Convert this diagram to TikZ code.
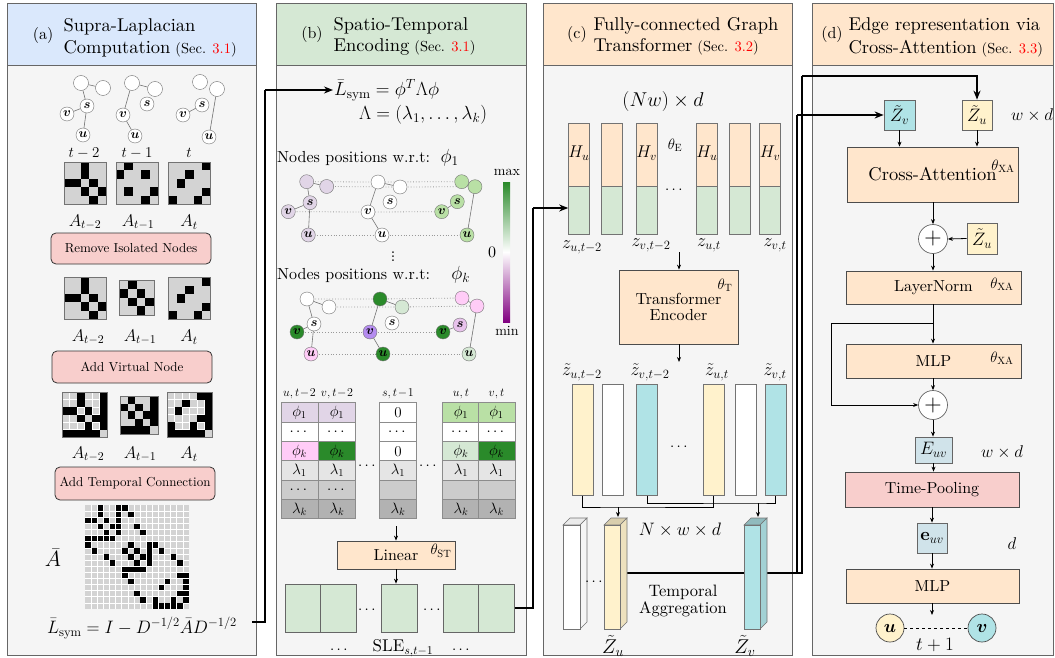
\RequirePackage{fix-cm}
\documentclass[tikz,border=0pt]{standalone}
\usepackage{amsmath,bm}
\usepackage{fontspec}
\setmainfont{lmroman10-regular.otf}[BoldFont=lmroman10-bold.otf,ItalicFont=lmroman10-italic.otf]
\usetikzlibrary{arrows.meta,calc}
\definecolor{hblue}{HTML}{DAE8FC}
\definecolor{hgreen}{HTML}{D5E8D4}
\definecolor{peach}{HTML}{FFE6CC}
\definecolor{pinkb}{HTML}{F8CECC}
\definecolor{bodyc}{HTML}{F5F5F5}
\definecolor{yel}{HTML}{FFF2CC}
\definecolor{cyn}{HTML}{B0E3E6}
\definecolor{lpur}{HTML}{E1D5E7}
\definecolor{lgrn}{HTML}{B9E0A5}
\definecolor{dgrn}{HTML}{2A8A2A}
\definecolor{pnk}{HTML}{FFCCF7}
\definecolor{vio}{HTML}{B58CF0}
\definecolor{lav}{HTML}{E8C2EC}
\definecolor{matg}{HTML}{D3D3D3}
\definecolor{ebox}{HTML}{D0E3EA}
\definecolor{mpur}{HTML}{800080}
\newcommand\fz[1]{\fontsize{#1}{\fpeval{1.18*#1}}\selectfont}
\newcommand\mymat[5]{%
  \fill[matg] (#1,#2) rectangle ++({#3*#4},{#3*#4});
  \foreach \r/\c in {#5} \fill[black] ({#1+\c*#4},{#2+\r*#4}) rectangle ++(#4,#4);
  \draw[black!55,line width=0.7] (#1,#2) rectangle ++({#3*#4},{#3*#4});}
\newcommand\mygrid[4]{% x y n cell
  \pgfmathtruncatemacro\nm{#3-1}
  \foreach \k in {1,...,\nm} {
    \draw[white,line width=0.6] ({#1+\k*#4},#2) -- ++(0,{#3*#4});
    \draw[white,line width=0.6] (#1,{#2+\k*#4}) -- ++({#3*#4},0);}}
\newcommand\cuboid[7]{% x ytop ybot w front top side
  \filldraw[fill=#6,draw=black!55,line width=0.6] (#1,#2) -- ++(7,-7) -- ++(#4,0) -- ++(-7,7) -- cycle;
  \filldraw[fill=#7,draw=black!55,line width=0.6] ({#1+#4},#2) -- ++(7,-7) -- ({#1+#4+7},{#3-7}) -- ({#1+#4},#3) -- cycle;
  \filldraw[fill=#5,draw=black!55,line width=0.6] (#1,#2) rectangle ({#1+#4},#3);}
\tikzset{
  panel/.style={draw=black!60,fill=bodyc,line width=0.9},
  hdrs/.style={draw=black!60,line width=0.9},
  gn/.style={circle,draw=black!55,fill=white,inner sep=0pt,minimum size=14pt,font=\fz{13}},
  ge/.style={draw=black!55,line width=0.6},
  gd/.style={draw=black!40,dotted,line width=0.8},
  btn/.style={draw=black!80,rounded corners=5pt,fill=pinkb,line width=0.8,font=\fz{13},inner sep=0pt},
  box/.style={draw=black!70,fill=peach,line width=0.8,inner sep=0pt},
  cell/.style={draw=black!45,line width=0.6,inner sep=0pt,minimum width=37,minimum height=19.5,font=\fz{15}},
  col/.style={draw=black!55,line width=0.6,inner sep=0pt,minimum width=21},
  arr/.style={-{Stealth[length=5pt,width=4pt]},line width=0.8},
  bigl/.style={line width=1.8},
  biga/.style={line width=1.8,-{Stealth[length=9pt,width=7pt]}},
}
\begin{document}
\begin{tikzpicture}[x=1pt,y=-1pt]
\fill[white] (0,0) rectangle (1055,658);
\useasboundingbox (0,0) rectangle (1055,658);

% ---------- panels ----------
\draw[panel] (7,65) rectangle (256,655);
\draw[hdrs,fill=hblue] (7,3) rectangle (256,65);
\draw[panel] (276,65) rectangle (526,655);
\draw[hdrs,fill=hgreen] (276,3) rectangle (526,65);
\draw[panel] (543,65) rectangle (792,655);
\draw[hdrs,fill=peach] (543,3) rectangle (792,65);
\draw[panel] (812,65) rectangle (1053.5,655);
\draw[hdrs,fill=peach] (812,3) rectangle (1053.5,65);

% headers
\node[font=\fz{16}] (ha) at (43,36) {(a)};
\node[anchor=west,font=\fz{18.5}] (ha1) at (60,27) {Supra-Laplacian};
\node[anchor=west,font=\fz{18.5}] (ha2) at (60,49) {Computation\hspace{5pt}{\fz{14.5}(Sec. \textcolor{red}{3.1})}};
\node[font=\fz{16}] (hb) at (312,35) {(b)};
\node[anchor=west,font=\fz{18.5}] (hb1) at (330,26) {Spatio-Temporal};
\node[anchor=west,font=\fz{18.5}] (hb2) at (330,47) {Encoding\hspace{5pt}{\fz{14.5}(Sec. \textcolor{red}{3.1})}};
\node[font=\fz{16}] (hc) at (577,35) {(c)};
\node[anchor=west,font=\fz{18.5}] (hc1) at (590,26) {Fully-connected Graph};
\node[anchor=west,font=\fz{18.5}] (hc2) at (590,47) {Transformer\hspace{5pt}{\fz{14.5}(Sec. \textcolor{red}{3.2})}};
\node[font=\fz{16}] (hd) at (832,35) {(d)};
\node[anchor=west,font=\fz{18.5}] (hd1) at (845,26) {Edge representation via};
\node[anchor=west,font=\fz{18.5}] (hd2) at (845,49) {Cross-Attention\hspace{5pt}{\fz{14.5}(Sec. \textcolor{red}{3.3})}};

% ---------- panel (a) ----------
\node[gn,minimum size=15pt] (a1c1) at (81,83) {};
\node[gn,minimum size=15pt] (a1c2) at (103,88) {};
\node[gn] (a1s) at (87,106) {$\bm{s}$};
\node[gn] (a1v) at (67,114) {$\bm{v}$};
\node[gn] (a1u) at (83,135) {$\bm{u}$};
\draw[ge] (a1c1)--(a1c2) (a1c1)--(a1s) (a1v)--(a1s) (a1s)--(a1u);
\node[gn,minimum size=15pt] (a2c1) at (132,83) {};
\node[gn,minimum size=15pt] (a2c2) at (155,89) {};
\node[gn] (a2s) at (147,104) {$\bm{s}$};
\node[gn] (a2v) at (123,115) {$\bm{v}$};
\node[gn] (a2u) at (135,136) {$\bm{u}$};
\draw[ge] (a2c1)--(a2c2) (a2c1)--(a2v) (a2v)--(a2u);
\node[gn,minimum size=15pt] (a3c1) at (200,82) {};
\node[gn,minimum size=15pt] (a3c2) at (217,89) {};
\node[gn] (a3s) at (202,105) {$\bm{s}$};
\node[gn] (a3v) at (183,115) {$\bm{v}$};
\node[gn] (a3u) at (209,137) {$\bm{u}$};
\draw[ge] (a3v)--(a3s) (a3c2)--(a3u);
\node[font=\fz{15}] (t2) at (84,153) {$t-2$};
\node[font=\fz{15}] (t1) at (137,153) {$t-1$};
\node[font=\fz{15}] (t0) at (189,153) {$t$};

% row 1 matrices
\mymat{64}{162}{5}{8.4}{0/2,1/2,2/0,2/1,2/3,3/2,3/4,4/3}
\mymat{116}{162}{5}{8.4}{0/1,1/0,1/3,3/1,3/4,4/3}
\mymat{168}{162}{5}{8.5}{0/4,4/0,1/2,2/1,3/4,4/3}
\node[font=\fz{17}] (la1) at (85,222) {$A_{t-2}$};
\node[font=\fz{17}] (la2) at (138,222) {$A_{t-1}$};
\node[font=\fz{17}] (la3) at (189,222) {$A_{t}$};
\node[btn,minimum width=160,minimum height=31] (rem) at (131,248.5) {Remove Isolated Nodes};

% row 2 matrices
\mymat{64}{277}{5}{8.4}{0/2,1/2,2/0,2/1,2/3,3/2,3/4,4/3}
\mymat{119}{280}{4}{8.75}{0/1,1/0,1/2,2/1,2/3,3/2}
\mymat{168}{277}{5}{8.5}{0/4,4/0,1/2,2/1,3/4,4/3}
\node[font=\fz{17}] (lb1) at (88,337) {$A_{t-2}$};
\node[font=\fz{17}] (lb2) at (140,337) {$A_{t-1}$};
\node[font=\fz{17}] (lb3) at (189,337) {$A_{t}$};
\node[btn,minimum width=160,minimum height=32] (virt) at (132,367) {Add Virtual Node};

% row 3 matrices (with virtual node)
\fill[matg] (62,392) rectangle ++(45,45); \mygrid{62}{392}{6}{7.5}
\foreach \r/\c in {0/2,1/2,2/0,2/1,2/3,3/2,3/4,4/3,0/5,1/5,2/5,3/5,4/5,5/0,5/1,5/2,5/3,5/4}
  \fill[black] ({62+\c*7.5},{392+\r*7.5}) rectangle ++(7.5,7.5);
\draw[black!55,line width=0.7] (62,392) rectangle ++(45,45);
\mymat{120}{396}{5}{7.6}{0/1,1/0,1/2,2/1,2/3,3/2,0/4,1/4,2/4,3/4,4/0,4/1,4/2,4/3}
\fill[matg] (167,392) rectangle ++(45,45); \mygrid{167}{392}{6}{7.5}
\foreach \r/\c in {0/4,4/0,1/2,2/1,3/4,4/3,0/5,1/5,2/5,3/5,4/5,5/0,5/1,5/2,5/3,5/4}
  \fill[black] ({167+\c*7.5},{392+\r*7.5}) rectangle ++(7.5,7.5);
\draw[black!55,line width=0.7] (167,392) rectangle ++(45,45);
\node[font=\fz{17}] (lc1) at (88,454) {$A_{t-2}$};
\node[font=\fz{17}] (lc2) at (140,454) {$A_{t-1}$};
\node[font=\fz{17}] (lc3) at (189,454) {$A_{t}$};
\node[btn,minimum width=160,minimum height=33] (temp) at (135,483.5) {Add Temporal Connection};

% big supra adjacency
\fill[matg] (85,505) rectangle ++(104,104);
\mygrid{85}{505}{17}{6.118}
\foreach \a/\b in {0/2,1/2,2/3,3/4,0/5,1/5,2/5,3/5,4/5,6/7,7/8,8/9,6/10,7/10,8/10,9/10,11/15,12/13,14/15,11/16,12/16,13/16,14/16,15/16,0/6,1/7,3/8,4/9,6/11,7/12,8/14,9/15} {
  \fill[black] ({85+\b*6.118+0.4},{505+\a*6.118+0.4}) rectangle ++(5.4,5.4);
  \fill[black] ({85+\a*6.118+0.4},{505+\b*6.118+0.4}) rectangle ++(5.4,5.4);}
\node[font=\fz{22}] (Abar) at (53,558) {$\bar A$};
\node[font=\fz{18},inner sep=0pt] (lform) at (142,628) {$\bar L_{\mathrm{sym}} = I - D^{-1/2}\bar A D^{-1/2}$};

% ---------- panel (b) ----------
\node[anchor=west,font=\fz{19},inner sep=1pt] (Lsym) at (333,90) {$\bar L_{\mathrm{sym}} = \phi^T\Lambda\phi$};
\node[font=\fz{19}] (Lam) at (423,115) {$\Lambda = (\lambda_1,\ldots,\lambda_k)$};
\node[anchor=west,font=\fz{16},inner sep=0pt] (np1) at (277,158) {Nodes positions w.r.t:\ \ {\fz{19}$\phi_1$}};

% graphs phi_1
\draw[gd] (306.7,181.7) -- (378,182) -- (461.7,181.7);
\draw[gd] (326.7,186.5) -- (400,187) -- (475,186.7);
\draw[gd] (288.3,211.7) -- (368,212) -- (441.7,211.7);
\draw[gd] (308.3,235) -- (382,235) -- (467,235);
\node[gn,fill=lpur] (b1c1) at (306.7,181.7) {};
\node[gn,fill=lpur] (b1c2) at (326.7,186.5) {};
\node[gn,fill=lpur] (b1s) at (310,202.7) {$\bm{s}$};
\node[gn,fill=lpur] (b1v) at (288.3,211.7) {$\bm{v}$};
\node[gn,fill=lpur] (b1u) at (308.3,235) {$\bm{u}$};
\draw[ge] (b1c1)--(b1c2) (b1c1)--(b1s) (b1v)--(b1s) (b1s)--(b1u);
\node[gn] (b2c1) at (378,182) {};
\node[gn] (b2c2) at (400,187) {};
\node[gn] (b2s) at (390,202) {$\bm{s}$};
\node[gn] (b2v) at (368,212) {$\bm{v}$};
\node[gn] (b2u) at (382,235) {$\bm{u}$};
\draw[ge] (b2c1)--(b2c2) (b2c1)--(b2v) (b2v)--(b2u);
\node[gn,fill=lgrn] (b3c1) at (461.7,181.7) {};
\node[gn,fill=lgrn] (b3c2) at (475,186.7) {};
\node[gn,fill=lgrn] (b3s) at (457.3,201.7) {$\bm{s}$};
\node[gn,fill=lgrn] (b3v) at (441.7,211.7) {$\bm{v}$};
\node[gn,fill=lgrn] (b3u) at (467,235) {$\bm{u}$};
\draw[ge] (b3c1)--(b3c2) (b3v)--(b3s) (b3c2)--(b3u);

\node[font=\fz{16},inner sep=0pt] (vd) at (393,254) {$\vdots$};
\node[anchor=west,font=\fz{16},inner sep=0pt] (npk) at (277,275) {Nodes positions w.r.t:\ \ \ \ {\fz{19}$\phi_k$}};

% graphs phi_k
\draw[gd] (307,299) -- (380,299) -- (462,298);
\draw[gd] (329,307) -- (402,307) -- (477,306);
\draw[gd] (297,332) -- (370,332) -- (443,332);
\draw[gd] (311,354) -- (383,354) -- (469,354);
\node[gn] (k1c1) at (307,299) {};
\node[gn] (k1c2) at (329,307) {};
\node[gn] (k1s) at (314,324) {$\bm{s}$};
\node[gn,fill=dgrn] (k1v) at (297,332) {$\bm{v}$};
\node[gn,fill=pnk] (k1u) at (311,354) {$\bm{u}$};
\draw[ge] (k1c1)--(k1c2) (k1c1)--(k1s) (k1v)--(k1s) (k1s)--(k1u);
\node[gn,fill=dgrn] (k2c1) at (380,299) {};
\node[gn,fill=hgreen] (k2c2) at (402,307) {};
\node[gn] (k2s) at (392,323) {$\bm{s}$};
\node[gn,fill=vio] (k2v) at (370,332) {$\bm{v}$};
\node[gn,fill=dgrn] (k2u) at (383,354) {$\bm{u}$};
\draw[ge] (k2c1)--(k2c2) (k2c1)--(k2v) (k2v)--(k2u);
\node[gn,fill=pnk] (k3c1) at (462,298) {};
\node[gn,fill=pnk] (k3c2) at (477,306) {};
\node[gn,fill=lav] (k3s) at (460,325) {$\bm{s}$};
\node[gn,fill=dgrn] (k3v) at (443,332) {$\bm{v}$};
\node[gn,fill=hgreen] (k3u) at (469,354) {$\bm{u}$};
\draw[ge] (k3c1)--(k3c2) (k3v)--(k3s) (k3c2)--(k3u);

% colour bar
\shade[top color=dgrn,bottom color=mpur,middle color=white] (503,182) rectangle (510,322);
\node[font=\fz{14}] (cmax) at (507,172) {max};
\node[font=\fz{16}] (czero) at (492,252) {0};
\node[font=\fz{14}] (cmin) at (507,331) {min};

% table
\foreach \x/\l in {299.5/{u,t\!-\!2},337/{v,t\!-\!2},398/{s,t\!-\!1},461/{u,t},496.5/{v,t}}
  \node[font=\fz{12}] at (\x,394) {$\l$};
\foreach \x/\ca/\cb in {299.5/lpur/pnk,337/lpur/dgrn,461/lgrn/hgreen,496.5/lgrn/dgrn} {
  \node[cell,fill=\ca] at (\x,412.5) {$\phi_1$};
  \node[cell,fill=white] at (\x,432) {$\cdots$};
  \node[cell,fill=\cb] at (\x,451.5) {$\phi_k$};
  \node[cell,fill=black!10] at (\x,470.5) {$\lambda_1$};
  \node[cell,fill=black!20] at (\x,490) {};
  \node[cell,fill=black!30] at (\x,509) {$\lambda_k$};}
\node[cell,fill=black!20] at (299.5,490) {$\cdots$};
\node[cell,fill=black!20] at (337,490) {$\cdots$};
\node[cell,fill=white] at (398,412.5) {$0$};
\node[cell,fill=white] at (398,432) {$\cdots$};
\node[cell,fill=white] at (398,451.5) {$0$};
\node[cell,fill=black!10] at (398,470.5) {$\lambda_1$};
\node[cell,fill=black!20] at (398,490) {};
\node[cell,fill=black!30] at (398,509) {$\lambda_k$};
\node[font=\fz{15}] at (368,466) {$\cdots$};
\node[font=\fz{15}] at (429,466) {$\cdots$};

\coordinate (tabb) at (396,526);
\node[box,minimum width=118,minimum height=28,font=\fz{16}] (lin) at (396,555) {Linear};
\node[font=\fz{15}] (thst) at (441,551) {$\theta_{\mathrm{ST}}$};
\draw[arr] (tabb) -- (lin.north);
\foreach \n/\x in {g1a/303,g1b/338.5,g2/399.5,g3a/461.5,g3b/496.5}
  \node[draw=black!60,fill=hgreen,line width=0.7,minimum width=35.5,minimum height=48,inner sep=0pt] (\n) at (\x,608) {};
\draw[arr] (lin.south) -- (lin.south |- g2.north);
\node[font=\fz{15}] at (368,610) {$\cdots$};
\node[font=\fz{15}] at (433,610) {$\cdots$};
\node[font=\fz{15}] at (340,650) {$\cdots$};
\node[font=\fz{17}] (sle) at (403,648) {SLE$_{s,t-1}$};
\node[font=\fz{15}] at (462,650) {$\cdots$};

% ---------- panel (c) ----------
\node[font=\fz{20}] (nwd) at (663,102) {$(Nw)\times d$};
\foreach \n/\x/\lab in {z1/579/{H_u},z2/612/{},z3/646.5/{H_v},z4/707/{H_u},z5/739.5/{},z6/770/{H_v}} {
  \node[col,fill=peach,minimum height=63,anchor=north] (\n t) at (\x,123) {};
  \node[col,fill=hgreen,minimum height=48,anchor=north] (\n) at (\x,186) {};
  \node[font=\fz{17},inner sep=0pt] at (\x,153) {$\lab$};}
\node[font=\fz{15}] (the) at (675,145) {$\theta_{\mathrm{E}}$};
\node[font=\fz{15}] at (675,190) {$\cdots$};
\node[font=\fz{18}] at (582,247) {$z_{u,t-2}$};
\node[font=\fz{18}] at (651,245) {$z_{v,t-2}$};
\node[font=\fz{18}] at (709,245) {$z_{u,t}$};
\node[font=\fz{18}] at (775,245) {$z_{v,t}$};
\coordinate (zs) at (679,252);
\node[box,minimum width=119,minimum height=74,font=\fz{16},align=center] (te) at (678.5,307) {Transformer\\[-3pt]Encoder};
\node[font=\fz{15}] (tht) at (725,285) {$\theta_{\mathrm{T}}$};
\draw[arr] (zs) -- (zs |- te.north);
\coordinate (tes) at (679,362);
\draw[arr] (tes |- te.south) -- (tes);
\node[font=\fz{18}] at (582,372) {$\tilde z_{u,t-2}$};
\node[font=\fz{18}] at (650,372) {$\tilde z_{v,t-2}$};
\node[font=\fz{18}] at (717,372) {$\tilde z_{u,t}$};
\node[font=\fz{18}] at (775,372) {$\tilde z_{v,t}$};
\foreach \n/\x/\c in {y1/582.5/yel,y2/612.5/white,y3/647/cyn,y4/713.5/yel,y5/745.5/white,y6/775.5/cyn}
  \node[col,fill=\c,minimum height=111,anchor=north] (\n) at (\x,384) {};
\node[font=\fz{15}] at (680,447) {$\cdots$};
\coordinate (zuin) at (618,507);
\coordinate (zvin) at (758,503);
\coordinate (zutop) at (618,517);
\coordinate (zvtop) at (758,517);
\draw[line width=0.8] (y1.south) |- (zuin) -| (y4.south);
\draw[line width=0.8] (y3.south) |- (zvin) -| (y6.south);
\draw[arr] (zuin) -- (zutop);
\draw[arr] (zvin) -- (zvtop);

% thick connectors (drawn before cuboids)
\coordinate (zuout) at (627,573);
\coordinate (zvout) at (767,573);
\node[draw=black!60,fill=cyn,line width=0.7,minimum width=31,minimum height=30,inner sep=0pt,font=\fz{18}] (dZv) at (899.5,115) {$\tilde Z_v$};
\node[draw=black!60,fill=yel,line width=0.7,minimum width=30,minimum height=30,inner sep=0pt,font=\fz{18}] (dZu) at (977,115) {$\tilde Z_u$};
\coordinate (cu) at (802,76);
\coordinate (cv) at (797,115);
\draw[bigl] (zuout) -- (cu |- zuout) -- (cu);
\draw[biga] (cu) -| (dZu.north);
\draw[bigl] (zvout) -- (cv |- zvout) -- (cv);
\draw[biga] (cv) -- (dZv.west);

\cuboid{563}{525}{629}{17}{white}{black!8}{black!4}
\cuboid{604}{525}{629}{16}{yel}{yel!85!black}{yel!93!black}
\cuboid{744}{525}{629}{16}{cyn}{cyn!82!black}{cyn!92!black}
\node[font=\fz{15}] at (595,582) {$\cdots$};
\node[font=\fz{18}] (nwd2) at (680,530) {$N\times w\times d$};
\node[font=\fz{16.5},align=center] (tagg) at (683,601) {Temporal\\[-3pt]Aggregation};
\node[font=\fz{20}] (lZu) at (613,646) {$\tilde Z_u$};
\node[font=\fz{20}] (lZv) at (745,646) {$\tilde Z_v$};

% thick connector (b)->(c)
\coordinate (gout) at (533,608);
\coordinate (cin) at (533,208);
\draw[bigl] (g3b.east) -- (gout) -- (cin);
\draw[biga] (cin) -- (cin -| z1.west);
% thick connector (a)->(b)
\coordinate (aout) at (252,622);
\coordinate (aup) at (265,622);
\draw[bigl] (aout) -- (aup) -- (aup |- Lsym.west);
\draw[biga] (aup |- Lsym.west) -- (Lsym.west);

% ---------- panel (d) ----------
\node[font=\fz{17}] (wd1) at (1032,115) {$w\times d$};
\node[box,minimum width=171,minimum height=55,font=\fz{18.5}] (xa) at (932.5,174.5) {Cross-Attention};
\node[font=\fz{15}] at (1003,166) {$\theta_{\mathrm{XA}}$};
\draw[arr] (dZv.south) -- (dZv.south |- xa.north);
\draw[arr] (dZu.south) -- (dZu.south |- xa.north);
\node[circle,draw=black!60,fill=white,line width=0.7,minimum size=29,inner sep=0pt,font=\fz{24}] (p1) at (933,239) {$+$};
\draw[arr] (xa.south -| p1) -- (p1.north);
\node[draw=black!60,fill=yel,line width=0.7,minimum width=30,minimum height=31,inner sep=0pt,font=\fz{18}] (dZu2) at (982,238.5) {$\tilde Z_u$};
\draw[arr] (dZu2.west) -- (p1.east);
\node[box,minimum width=175,minimum height=33,font=\fz{16}] (ln) at (933.5,287.5) {LayerNorm};
\node[font=\fz{15}] at (1002,284) {$\theta_{\mathrm{XA}}$};
\draw[arr] (p1.south) -- (p1.south |- ln.north);
\node[box,minimum width=175,minimum height=34,font=\fz{16}] (mlp1) at (933.5,361) {MLP};
\node[font=\fz{15}] at (1002,358) {$\theta_{\mathrm{XA}}$};
\coordinate (br) at (933,323);
\draw[arr] (ln.south -| br) -- (mlp1.north -| br);
\node[circle,draw=black!60,fill=white,line width=0.7,minimum size=29,inner sep=0pt,font=\fz{24}] (p2) at (933,405) {$+$};
\draw[arr] (br) -- (831,323) |- (p2.west);
\draw[arr] (mlp1.south -| p2) -- (p2.north);
\node[draw=black!60,fill=ebox,line width=0.7,minimum width=37,minimum height=26,inner sep=0pt,font=\fz{18}] (Euv) at (933.5,450) {$E_{uv}$};
\node[font=\fz{17}] (wd2) at (1002,452) {$w\times d$};
\draw[arr] (p2.south) -- (p2.south |- Euv.north);
\node[draw=black!70,fill=pinkb,line width=0.8,minimum width=174,minimum height=35,inner sep=0pt,font=\fz{16}] (tp) at (932,489.5) {Time-Pooling};
\draw[arr] (Euv.south) -- (Euv.south |- tp.north);
\node[draw=black!60,fill=ebox,line width=0.7,minimum width=30,minimum height=30,inner sep=0pt,font=\fz{18}] (euv) at (932,538) {$\mathbf{e}_{uv}$};
\node[font=\fz{17}] (dd) at (1012,544) {$d$};
\draw[arr] (tp.south -| euv) -- (euv.north);
\node[box,minimum width=173,minimum height=34,font=\fz{16}] (mlp2) at (932.5,586) {MLP};
\draw[arr] (euv.south) -- (euv.south |- mlp2.north);
\coordinate (mout) at (932,615);
\draw[arr] (mlp2.south -| mout) -- (mout);
\node[circle,draw=black!70,fill=yel,line width=0.7,minimum size=28,inner sep=0pt,font=\fz{18}] (nu) at (890,628) {$\bm{u}$};
\node[circle,draw=black!70,fill=cyn,line width=0.7,minimum size=28,inner sep=0pt,font=\fz{18}] (nv) at (982,628) {$\bm{v}$};
\draw[dashed,line width=0.8] (nu) -- (nv);
\node[font=\fz{19}] (tp1) at (935,645) {$t+1$};
\end{tikzpicture}
\end{document}
